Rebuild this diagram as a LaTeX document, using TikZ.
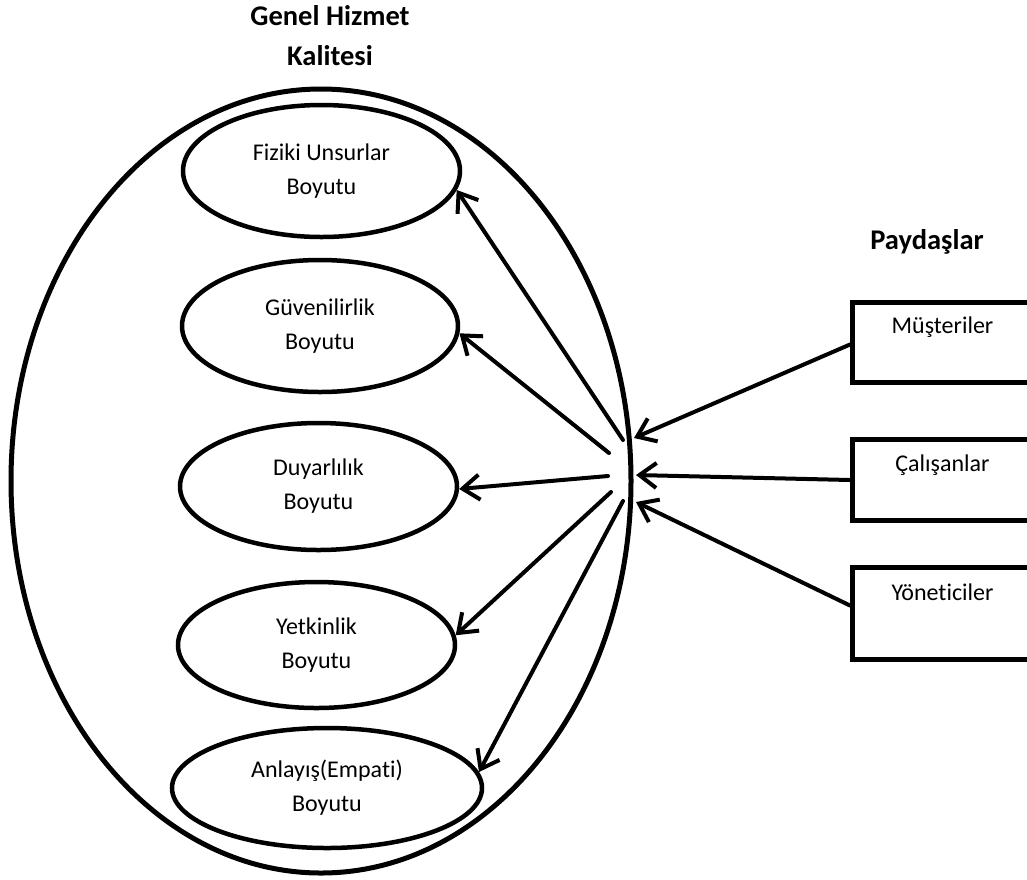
\documentclass[tikz,border=0pt]{standalone}
\usepackage{fontspec}
\setmainfont{Carlito}[Ligatures=NoCommon]
\usetikzlibrary{shapes.geometric,arrows.meta,calc}
\begin{document}
\begin{tikzpicture}[x=1pt,y=-1pt,
  dimension/.style={ellipse, draw, line width=4.5pt, inner sep=0pt, align=center,
    font=\fontsize{24}{34}\selectfont},
  whole/.style={ellipse, draw, line width=5pt, inner sep=0pt},
  party/.style={rectangle, draw, line width=5pt, inner sep=0pt, anchor=north west,
    minimum width=180pt},
  boxtext/.style={font=\fontsize{24}{34}\selectfont},
  heading/.style={font=\bfseries\fontsize{28.5}{40}\selectfont, align=center},
  link/.style={line width=4pt, line cap=round,
    -{Straight Barb[length=17pt,width=25pt]}}]
\useasboundingbox (0,0) rectangle (1027,879);
\clip (0,0) rectangle (1027,879);

% overall service quality and its five dimensions
\node[whole, minimum width=620pt, minimum height=784pt] (gq) at (321,481) {};
\node[dimension, minimum width=277pt, minimum height=132pt] (e1) at (321.5,171) {Fiziki Unsurlar\\Boyutu};
\node[dimension, minimum width=276pt, minimum height=132pt] (e2) at (320,326) {Güvenilirlik\\Boyutu};
\node[dimension, minimum width=277pt, minimum height=127pt] (e3) at (318.5,486.5) {Duyarlılık\\Boyutu};
\node[dimension, minimum width=277pt, minimum height=126pt] (e4) at (316.5,645) {Yetkinlik\\Boyutu};
\node[dimension, minimum width=310pt, minimum height=120pt] (e5) at (327,788) {Anlayış(Empati)\\Boyutu};

\node[heading] (title) at (330,36) {Genel Hizmet\\Kalitesi};
\node[heading] (ptitle) at (927,242) {Paydaşlar};

% stakeholder boxes
\node[party, minimum height=80pt] (mb) at (850,300) {};
\node[party, minimum height=81pt] (cb) at (850,437) {};
\node[party, minimum height=92pt] (yb) at (850,565) {};
\node[boxtext] (mt) at ($(mb.north)+(0,27)$) {Müşteriler};
\node[boxtext] (ct) at ($(cb.north)+(0,28)$) {Çalışanlar};
\node[boxtext] (yt) at ($(yb.north)+(0,27)$) {Yöneticiler};

% fan of arrows at the right of the outer ellipse
\coordinate (s1) at (623,440);
\coordinate (s2) at (609,453);
\coordinate (s3) at (608,476);
\coordinate (s4) at (611,492);
\coordinate (s5) at (623,501);
\coordinate (t1) at (634,438);
\coordinate (t2) at (636,475);
\coordinate (t3) at (636,502);

\draw[link] (s1) -- (e1.-8);
\draw[link] (s2) -- (e2.-3);
\draw[link] (s3) -- (e3.-1);
\draw[link] (s4) -- (e4.4);
\draw[link] (s5) -- (e5.6);

\draw[link] ([yshift=-2pt]mb.west) -- (t1);
\draw[link] (cb.west) -- (t2);
\draw[link] ([yshift=8pt]yb.west) -- (t3);
\end{tikzpicture}
\end{document}
